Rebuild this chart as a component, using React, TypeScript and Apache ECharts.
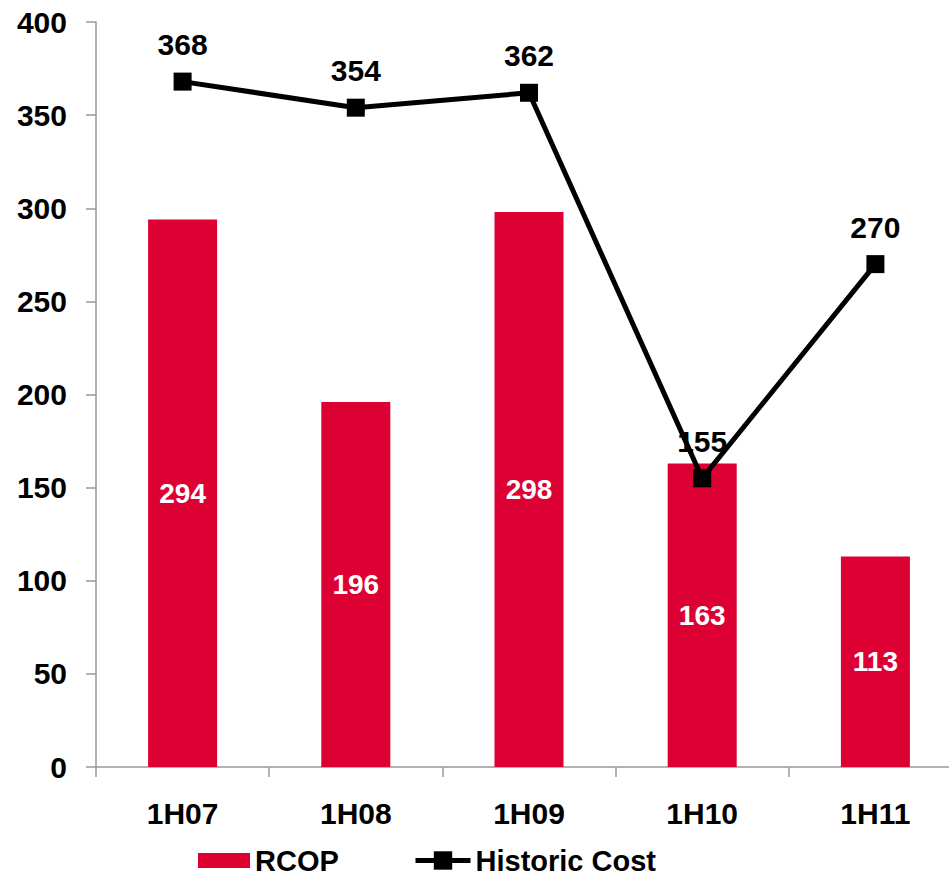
import React, { useEffect, useRef } from "react";
import * as echarts from "echarts";

const categories = ["1H07", "1H08", "1H09", "1H10", "1H11"];
const rcopValues = [294, 196, 298, 163, 113];
const historicCostValues = [368, 354, 362, 155, 270];

const FONT = "'Liberation Sans', Arial, sans-serif";
const RED = "#DD0033";

export default function App() {
  const ref = useRef<HTMLDivElement>(null);

  useEffect(() => {
    if (!ref.current) return;
    const chart = echarts.init(ref.current, undefined, { renderer: "svg" });
    const textBase = { fontFamily: FONT, fontWeight: "bold" as const, fontSize: 30, color: "#000" };
    chart.setOption({
      animation: false,
      backgroundColor: "#fff",
      grid: { left: 96, top: 22, bottom: 108, width: 866, containLabel: false },
      legend: [
        {
          data: [{ name: "RCOP", icon: "rect" }],
          left: 193,
          top: 841,
          itemWidth: 52,
          itemHeight: 15,
          itemGap: 6,
          textStyle: { ...textBase, fontSize: 29 },
        },
        {
          data: ["Historic Cost"],
          left: 408,
          top: 841,
          itemWidth: 55,
          itemHeight: 23,
          itemGap: 6,
          lineStyle: { width: 5, color: "#000" },
          textStyle: { ...textBase, fontSize: 29 },
        },
      ],
      xAxis: {
        type: "category",
        data: categories,
        boundaryGap: true,
        axisLine: { show: true, lineStyle: { color: "#999", width: 1.5 } },
        axisTick: { show: true, length: 10, lineStyle: { color: "#999", width: 1.5 } },
        axisLabel: { ...textBase, margin: 31 },
        splitLine: { show: false },
      },
      yAxis: {
        type: "value",
        min: 0,
        max: 400,
        interval: 50,
        axisLine: { show: true, lineStyle: { color: "#999", width: 1.5 } },
        axisTick: { show: true, length: 10, lineStyle: { color: "#999", width: 1.5 } },
        axisLabel: { ...textBase, margin: 29 },
        splitLine: { show: false },
      },
      series: [
        {
          name: "RCOP",
          type: "bar",
          data: rcopValues,
          barWidth: 69,
          itemStyle: { color: RED },
          label: {
            show: true,
            position: "inside",
            fontFamily: FONT,
            fontWeight: "bold",
            fontSize: 28,
            color: "#fff",
          },
          z: 1,
        },
        {
          name: "Historic Cost",
          type: "line",
          data: historicCostValues,
          symbol: "rect",
          symbolSize: 18,
          lineStyle: { color: "#000", width: 5 },
          itemStyle: { color: "#000" },
          label: {
            show: true,
            position: "top",
            distance: 13,
            fontFamily: FONT,
            fontWeight: "bold",
            fontSize: 30,
            color: "#000",
          },
          z: 3,
        },
      ],
    });
    return () => chart.dispose();
  }, []);

  return (
    <div style={{ width: 949, height: 875, position: "absolute", left: 0, top: 0, overflow: "hidden" }}>
      <div ref={ref} style={{ width: 966, height: 875 }} />
    </div>
  );
}
